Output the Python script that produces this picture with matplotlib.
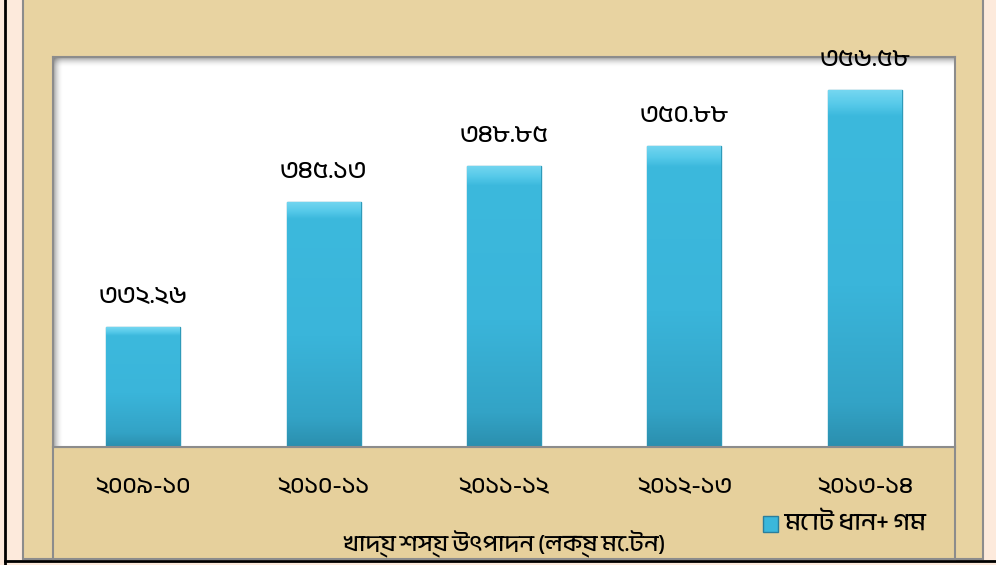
import matplotlib
matplotlib.use('Agg')
import numpy as np
import matplotlib.pyplot as plt
from matplotlib.patches import Rectangle
from matplotlib import font_manager
from matplotlib.ft2font import FT2Font

# data
years = ['২০০৯-১০', '২০১০-১১', '২০১১-১২', '২০১২-১৩', '২০১৩-১৪']
production = [332.26, 345.13, 348.85, 350.88, 356.58]
series_name = 'মোট ধান+ গম'
axis_title = 'খাদ্য শস্য উৎপাদন (লক্ষ মে.টন)'

bn_digits = str.maketrans('0123456789', '০১২৩৪৫৬৭৮৯')


def bengali_font():
    # any installed font with Bengali glyphs, non-mono preferred
    found = []
    for f in font_manager.fontManager.ttflist:
        try:
            if 0x09E6 in FT2Font(f.fname).get_charmap():
                found.append(f.name)
        except Exception:
            pass
    if not found:
        return None
    found.sort(key=lambda n: ('Mono' in n, 'Bengali' not in n and 'Bangla' not in n,
                              'Serif' in n, n))
    return found[0]


bn = bengali_font()
plt.rcParams['font.family'] = [bn, 'DejaVu Sans'] if bn else ['DejaVu Sans']

W, H = 996, 565
fig = plt.figure(figsize=(W / 100, H / 100), dpi=100, facecolor='#FDEADC')


def box(x0, y0, x1, y1, **kw):
    # rectangle in pixel coords (top-left origin) -> figure fraction
    fig.patches.append(Rectangle((x0 / W, 1 - y1 / H), (x1 - x0) / W, (y1 - y0) / H,
                                 transform=fig.transFigure, **kw))


# outer black border lines
fig.add_artist(plt.Line2D([5 / W, 5 / W], [0, 1], color='black', lw=2))
fig.add_artist(plt.Line2D([5 / W, 1], [1 - 561 / H, 1 - 561 / H], color='black', lw=2))
# parchment frame
box(23, -2, 983, 559, facecolor='#E8D3A1', edgecolor='#8C8C8C', lw=1.5, zorder=1)
# lower panel under plot
box(53, 447, 955, 559, facecolor='#E6D09C', edgecolor='#8C8C8C', lw=1.5, zorder=2)
# white plot area with soft inner shadow top and left
box(53, 57, 955, 447, facecolor='white', edgecolor='none', zorder=2)
for i in range(10):
    a = 0.55 * (1 - i / 10) ** 2
    box(53, 57 + i, 955, 58 + i, facecolor='#555555', edgecolor='none', alpha=a, zorder=2.5)
    box(53 + i, 57, 54 + i, 447, facecolor='#555555', edgecolor='none', alpha=a, zorder=2.5)

ax = fig.add_axes([53 / W, 1 - 447 / H, 902 / W, 390 / H])
ax.set_zorder(3)
ax.patch.set_alpha(0)

x = np.arange(len(years))
bars = ax.bar(x, production, width=0.41, color='#3BB7DB',
              edgecolor='#2E9AB9', linewidth=1.0)
ax.set_ylim(320, 360)
ax.set_xlim(-0.5, len(years) - 0.5)

# vertical shading inside each bar (dark foot, light bevel on top)
grad = np.linspace(0, 1, 256).reshape(-1, 1)
cmap = matplotlib.colors.LinearSegmentedColormap.from_list(
    'bar', [(0, '#2B8FAE'), (0.12, '#33A3C6'), (0.45, '#3AB5DA'),
            (0.93, '#3CB9DD'), (0.96, '#55C9E9'), (1, '#74D6F0')])
for rect in bars:
    x0, w = rect.get_x(), rect.get_width()
    im = ax.imshow(grad, extent=(x0, x0 + w, 320, rect.get_height()), origin='lower',
                   cmap=cmap, aspect='auto', zorder=2)
    im.set_clip_path(rect)

for rect, v in zip(bars, production):
    ax.annotate(f'{v:.2f}'.translate(bn_digits),
                (rect.get_x() + rect.get_width() / 2, v),
                xytext=(0, 22), textcoords='offset points', ha='center', va='center',
                fontsize=18, annotation_clip=False, clip_on=False)

ax.set_xlim(-0.5, len(years) - 0.5)
ax.set_ylim(320, 360)
ax.set_yticks([])
ax.set_xticks(x)
ax.set_xticklabels(years, fontsize=17)
ax.tick_params(axis='x', length=0, pad=22)
for s in ax.spines.values():
    s.set_color('#8C8C8C')
    s.set_linewidth(1.5)

fig.text(504 / W, 1 - 544 / H, axis_title, ha='center', va='center', fontsize=17, zorder=5)

# legend
box(763, 516, 778, 532, facecolor='#3BB7DB', edgecolor='#2B7E9C', lw=1, zorder=5)
fig.text(784 / W, 1 - 522 / H, series_name, ha='left', va='center', fontsize=18, zorder=5)

fig.savefig('out.png', dpi=100, facecolor=fig.get_facecolor())
